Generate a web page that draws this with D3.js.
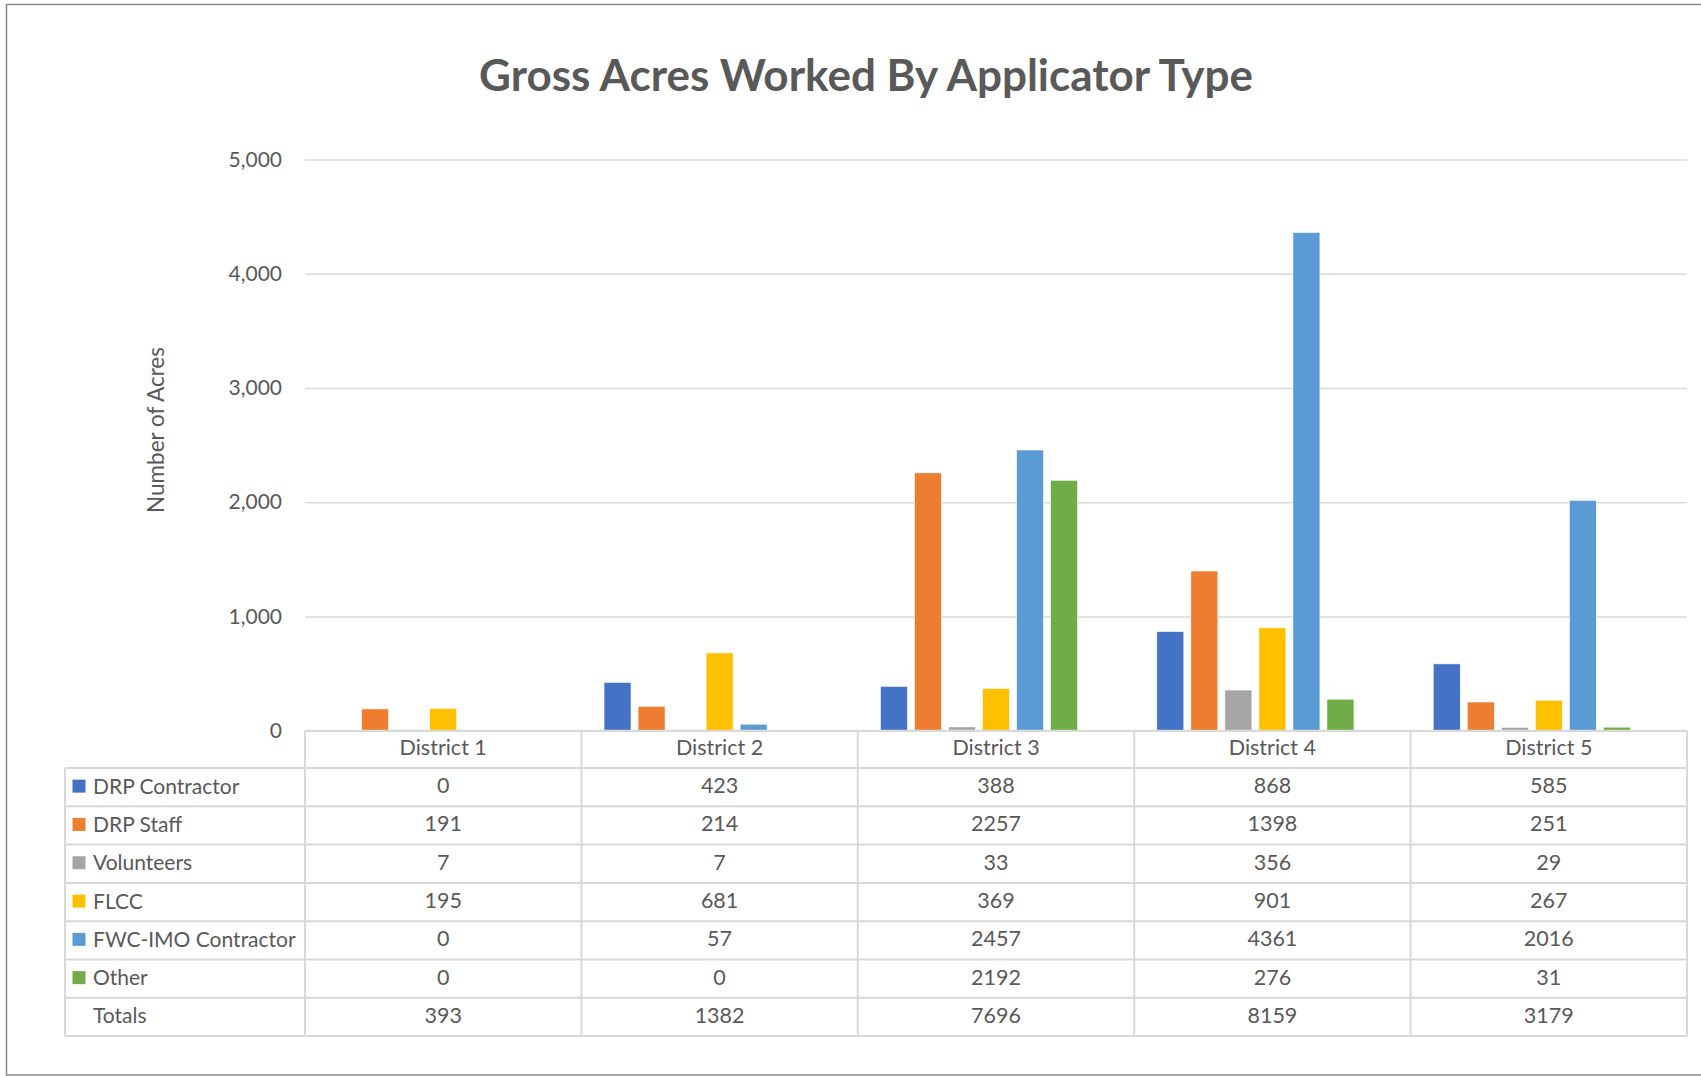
<!DOCTYPE html>
<html>
<head>
<meta charset="utf-8">
<script src="https://cdn.jsdelivr.net/npm/d3@7"></script>
<style>
  body { margin: 0; background: #fff; }
  svg text { font-family: Lato, "Open Sans", sans-serif; fill: #595959; }
</style>
</head>
<body>
<script>
// chart data
const districts = ["District 1", "District 2", "District 3", "District 4", "District 5"]
const seriesNames = ["DRP Contractor", "DRP Staff", "Volunteers", "FLCC", "FWC-IMO Contractor", "Other"]
const drpContractor = [0, 423, 388, 868, 585]
const drpStaff = [191, 214, 2257, 1398, 251]
const volunteers = [7, 7, 33, 356, 29]
const flcc = [195, 681, 369, 901, 267]
const fwcImo = [0, 57, 2457, 4361, 2016]
const other = [0, 0, 2192, 276, 31]
const totals = [393, 1382, 7696, 8159, 3179]
const seriesColors = ["#4472C4", "#ED7D31", "#A5A5A5", "#FFC000", "#5B9BD5", "#70AD47"]
const yTicks = [0, 1000, 2000, 3000, 4000, 5000]

const seriesValues = [drpContractor, drpStaff, volunteers, flcc, fwcImo, other]

const W = 1701, H = 1076
const plot = {left: 305, right: 1687, top: 159.5, bottom: 730.7}
const tableLeft = 65
const headerH = 37.3, rowH = 38.3

const svg = d3.select("body").append("svg")
    .attr("width", W)
    .attr("height", H)

// outer frame (top, left, bottom only)
svg.append("path")
    .attr("d", `M${W},4.5 L6.5,4.5 L6.5,1075 L${W},1075`)
    .attr("fill", "none")
    .attr("stroke", "#898989")
    .attr("stroke-width", 1.5)

// title
svg.append("text")
    .text("Gross Acres Worked By Applicator Type")
    .attr("x", 866)
    .attr("y", 74)
    .attr("text-anchor", "middle")
    .attr("dominant-baseline", "central")
    .style("font-size", "44px")
    .style("font-weight", "bold")

// scales
const x0 = d3.scaleBand()
    .domain(districts)
    .range([plot.left, plot.right])
    .padding(0)

// Totals takes a slot in the cluster but has no fill
const x1 = d3.scaleBand()
    .domain(seriesNames.concat(["Totals"]))
    .range([0, x0.bandwidth()])
    .paddingInner(0.206)
    .paddingOuter(0.665)

const y = d3.scaleLinear()
    .domain([0, 5000])
    .range([plot.bottom, plot.top])

// gridlines + tick labels
const yAxis = svg.append("g")
    .attr("transform", `translate(${plot.left},0)`)
    .call(d3.axisLeft(y)
        .tickValues(yTicks)
        .tickFormat(d3.format(","))
        .tickSize(-(plot.right - plot.left))
        .tickPadding(23))
yAxis.select(".domain").remove()
yAxis.selectAll(".tick line")
    .attr("stroke", "#d9d9d9")
    .attr("stroke-width", 1.5)
yAxis.selectAll(".tick text")
    .style("font-size", "21px")
    .attr("fill", "#595959")
    .style("font-family", "Lato, sans-serif")

// axis title
svg.append("text")
    .text("Number of Acres")
    .attr("transform", `translate(155, 430) rotate(-90)`)
    .attr("text-anchor", "middle")
    .attr("dominant-baseline", "central")
    .style("font-size", "22.5px")

// bars
const barData = []
seriesNames.forEach((s, si) => {
    districts.forEach((d, di) => {
        barData.push({series: s, district: d, value: seriesValues[si][di], color: seriesColors[si]})
    })
})
svg.append("g").selectAll("rect")
    .data(barData)
    .enter()
    .append("rect")
    .attr("x", d => x0(d.district) + x1(d.series))
    .attr("y", d => y(d.value))
    .attr("width", x1.bandwidth())
    .attr("height", d => y(0) - y(d.value))
    .attr("fill", d => d.color)
    .attr("stroke", "#fff")
    .attr("stroke-width", 0.6)

// data table
const table = svg.append("g").attr("id", "table")
const rowLabels = seriesNames.concat(["Totals"])
const rowData = seriesValues.concat([totals])
const tableTop = plot.bottom
const rowsTop = tableTop + headerH
const tableBottom = rowsTop + rowH * rowLabels.length
const gridStroke = "#d9d9d9"
const textShift = -2

// horizontal lines
table.append("line")
    .attr("x1", plot.left).attr("x2", plot.right)
    .attr("y1", tableTop).attr("y2", tableTop)
    .attr("stroke", gridStroke).attr("stroke-width", 2)
d3.range(rowLabels.length + 1).forEach(i => {
    table.append("line")
        .attr("x1", tableLeft).attr("x2", plot.right)
        .attr("y1", rowsTop + i * rowH).attr("y2", rowsTop + i * rowH)
        .attr("stroke", gridStroke).attr("stroke-width", 2)
})
// vertical lines
table.append("line")
    .attr("x1", tableLeft).attr("x2", tableLeft)
    .attr("y1", rowsTop).attr("y2", tableBottom)
    .attr("stroke", gridStroke).attr("stroke-width", 2)
districts.concat([null]).forEach((d, i) => {
    const xx = d ? x0(d) : plot.right
    table.append("line")
        .attr("x1", xx).attr("x2", xx)
        .attr("y1", tableTop).attr("y2", tableBottom)
        .attr("stroke", gridStroke).attr("stroke-width", 2)
})

// header text
table.selectAll(".hdr")
    .data(districts)
    .enter()
    .append("text")
    .attr("class", "hdr")
    .text(d => d)
    .attr("x", d => x0(d) + x0.bandwidth() / 2)
    .attr("y", tableTop + headerH / 2 + textShift)
    .attr("text-anchor", "middle")
    .attr("dominant-baseline", "central")
    .style("font-size", "21.5px")

// row labels and legend keys
rowLabels.forEach((label, ri) => {
    const cy = rowsTop + ri * rowH + rowH / 2 + textShift
    if (ri < seriesColors.length) {
        table.append("rect")
            .attr("x", 72.5)
            .attr("y", cy - 5.5)
            .attr("width", 13)
            .attr("height", 13)
            .attr("fill", seriesColors[ri])
    }
    table.append("text")
        .text(label)
        .attr("x", 93)
        .attr("y", cy)
        .attr("dominant-baseline", "central")
        .style("font-size", "21px")
    table.selectAll(".cell-" + ri)
        .data(rowData[ri])
        .enter()
        .append("text")
        .text(v => v)
        .attr("x", (v, di) => x0(districts[di]) + x0.bandwidth() / 2)
        .attr("y", cy)
        .attr("text-anchor", "middle")
        .attr("dominant-baseline", "central")
        .style("font-size", "21.5px")
})
</script>
</body>
</html>
